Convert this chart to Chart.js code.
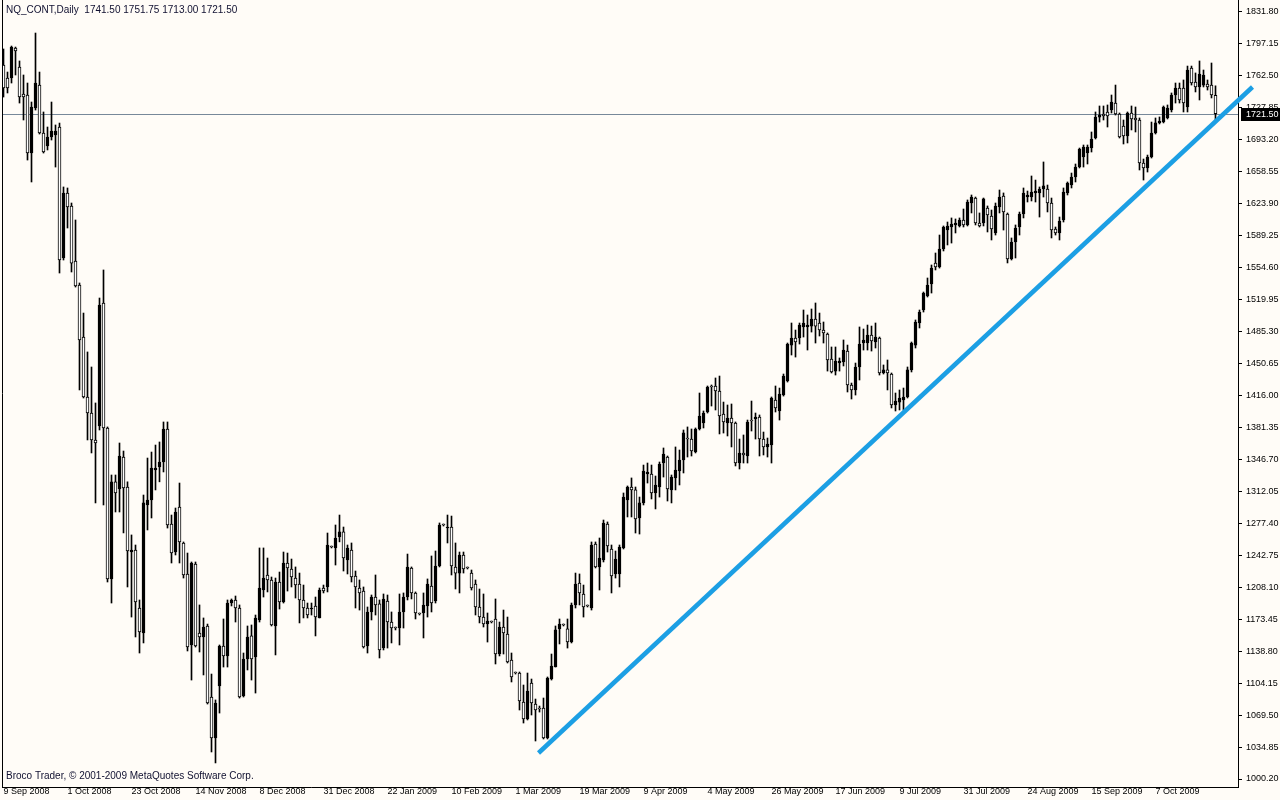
<!DOCTYPE html>
<html>
<head>
<meta charset="utf-8">
<title>NQ_CONT Daily</title>
<script src="https://cdn.jsdelivr.net/npm/chart.js@4.4.1/dist/chart.umd.min.js"></script>
<style>
  html, body { margin: 0; padding: 0; background: #fffcf7; }
  canvas { display: block; }
</style>
</head>
<body>
<canvas id="nqChart" width="1280" height="800"></canvas>
<script>
// NQ_CONT daily candles, 9 Sep 2008 .. late Oct 2009

const chartTitle = 'NQ_CONT,Daily  1741.50 1751.75 1713.00 1721.50';
const copyright = 'Broco Trader, \u00A9 2001-2009 MetaQuotes Software Corp.';

// one label every 16 bars
const dateTicks = ['9 Sep 2008', '1 Oct 2008', '23 Oct 2008', '14 Nov 2008', '8 Dec 2008',
  '31 Dec 2008', '22 Jan 2009', '10 Feb 2009', '1 Mar 2009', '19 Mar 2009', '9 Apr 2009',
  '4 May 2009', '26 May 2009', '17 Jun 2009', '9 Jul 2009', '31 Jul 2009', '24 Aug 2009',
  '15 Sep 2009', '7 Oct 2009'];
const barsPerLabel = 16;

const priceTicks = [1000.20, 1034.85, 1069.50, 1104.15, 1138.80, 1173.45, 1208.10, 1242.75,
  1277.40, 1312.05, 1346.70, 1381.35, 1416.00, 1450.65, 1485.30, 1519.95, 1554.60, 1589.25,
  1623.90, 1658.55, 1693.20, 1727.85, 1762.50, 1797.15, 1831.80];

const bidPrice = 1721.50;

const opens = [
  1774.3,1760.2,1760.2,1792.8,1772.2,1742.9,1741.8,1678.9,1727.7,1752.6,
  1700.6,1686.5,1696.3,1698.4,1707.1,1565.1,1635.5,1621.5,1561.8,1535.8,
  1479.4,1414.4,1397.0,1367.8,1382.9,1516.3,1380.8,1217.1,1322.4,1314.6,
  1349.3,1316.8,1246.3,1248.5,1185.6,1158.5,1297.3,1302.7,1335.2,1338.5,
  1343.9,1379.7,1276.7,1246.3,1295.1,1256.1,1222.5,1145.5,1233.3,1158.5,
  1154.2,1166.1,1089.1,1044.7,1101.0,1144.4,1133.6,1191.0,1194.3,1185.6,
  1090.2,1130.3,1155.3,1132.5,1172.6,1205.1,1221.4,1216.0,1166.1,1213.8,
  1192.1,1234.4,1227.9,1218.1,1211.6,1194.3,1185.6,1184.5,1187.8,1174.8,
  1207.3,1208.4,1251.7,1250.7,1262.6,1268.1,1237.6,1248.5,1220.3,1207.3,
  1204.0,1144.4,1181.3,1197.5,1190.0,1142.2,1193.2,1170.4,1163.9,1163.9,
  1181.3,1197.5,1229.0,1201.9,1179.1,1180.2,1187.8,1209.5,1193.2,1231.1,
  1275.6,1272.3,1273.4,1230.1,1223.5,1243.1,1229.0,1223.5,1211.6,1186.7,
  1175.8,1168.3,1170.4,1173.7,1135.7,1165.0,1157.4,1129.2,1115.1,1115.1,
  1083.7,1065.3,1104.3,1081.5,1076.1,1077.2,1044.7,1108.6,1121.6,1162.9,
  1167.2,1162.9,1148.7,1188.9,1212.7,1200.8,1187.8,1185.6,1255.0,1230.1,
  1237.6,1276.7,1249.6,1222.5,1222.5,1250.7,1302.7,1316.8,1313.6,1283.2,
  1299.5,1330.9,1330.9,1310.3,1316.8,1342.8,1349.3,1313.6,1326.6,1334.1,
  1346.1,1368.8,1368.8,1354.7,1379.7,1386.2,1398.1,1425.2,1426.3,1420.9,
  1395.9,1386.2,1391.6,1386.2,1342.8,1353.7,1350.4,1388.4,1390.5,1392.7,
  1368.8,1360.2,1362.3,1411.1,1399.2,1416.5,1431.7,1470.7,1478.3,1478.3,
  1490.3,1490.3,1491.3,1498.9,1494.6,1487.0,1482.7,1455.6,1442.5,1451.2,
  1452.3,1464.2,1427.4,1422.0,1446.9,1472.9,1472.9,1481.6,1474.0,1478.3,
  1440.4,1443.7,1439.3,1405.7,1408.9,1411.1,1414.4,1443.7,1470.7,1494.6,
  1508.7,1523.9,1536.9,1559.7,1555.3,1574.8,1595.4,1598.7,1600.9,1599.8,
  1606.3,1600.9,1624.7,1630.1,1603.0,1603.0,1619.3,1610.6,1592.2,1620.4,
  1632.3,1612.8,1564.0,1582.4,1598.7,1612.8,1631.2,1631.2,1635.6,1635.6,
  1639.9,1639.9,1624.7,1596.5,1592.2,1606.3,1635.6,1644.2,1652.9,1663.7,
  1674.6,1678.9,1684.3,1695.2,1717.9,1721.2,1723.4,1725.5,1733.1,1721.2,
  1708.2,1697.4,1722.3,1716.9,1714.7,1668.1,1662.7,1674.6,1700.6,1711.5,
  1712.5,1716.9,1725.5,1741.8,1749.4,1749.4,1728.8,1771.1,1755.9,1750.5,
  1752.6,1753.7,1752.6,1741.5
];
const highs = [
  1791.7,1766.7,1794.9,1793.8,1778.7,1763.5,1754.8,1734.2,1809.0,1766.7,
  1723.4,1707.1,1734.2,1709.3,1711.4,1642.1,1641.0,1624.7,1606.3,1538.0,
  1505.4,1463.2,1446.9,1407.9,1521.7,1552.1,1381.9,1329.8,1329.8,1364.5,
  1355.8,1322.4,1264.8,1253.9,1194.3,1308.1,1348.2,1354.7,1362.3,1365.6,
  1387.3,1387.3,1286.4,1294.0,1321.1,1257.2,1245.2,1235.5,1235.5,1188.9,
  1174.8,1168.2,1114.0,1085.9,1145.5,1173.7,1194.3,1195.4,1198.6,1188.9,
  1136.8,1166.1,1167.2,1178.0,1250.7,1250.7,1239.8,1219.2,1218.1,1224.6,
  1246.3,1245.2,1238.7,1230.1,1223.5,1210.5,1191.0,1191.0,1197.5,1207.3,
  1210.5,1266.9,1252.8,1275.6,1286.4,1273.4,1253.9,1256.1,1225.7,1216.0,
  1208.4,1186.7,1199.7,1221.4,1194.3,1200.8,1199.7,1181.3,1165.0,1200.8,
  1201.9,1244.1,1230.1,1203.0,1180.2,1201.9,1217.1,1242.0,1247.4,1277.8,
  1276.7,1286.4,1285.3,1256.1,1246.3,1246.3,1230.1,1226.8,1216.0,1206.2,
  1200.8,1180.2,1171.5,1195.4,1170.4,1183.4,1175.8,1136.8,1116.2,1116.2,
  1102.1,1115.1,1108.6,1086.9,1079.3,1088.0,1110.8,1135.7,1166.1,1173.7,
  1168.3,1173.7,1191.0,1223.5,1222.5,1210.5,1188.9,1257.2,1257.2,1261.5,
  1281.0,1278.9,1253.9,1247.4,1253.9,1310.3,1317.9,1326.6,1316.8,1305.9,
  1340.6,1342.8,1340.6,1328.7,1343.9,1359.1,1350.4,1329.8,1360.2,1356.9,
  1378.6,1381.9,1379.7,1380.8,1418.7,1399.2,1426.3,1427.4,1435.0,1437.1,
  1408.9,1405.7,1406.8,1387.3,1368.8,1373.2,1389.4,1410.0,1397.0,1394.9,
  1376.4,1369.9,1414.4,1426.3,1424.1,1439.3,1472.9,1494.6,1487.0,1494.6,
  1508.7,1503.3,1509.8,1516.3,1505.4,1495.7,1483.8,1468.6,1468.6,1456.7,
  1476.2,1470.7,1429.5,1451.2,1490.3,1488.1,1492.4,1491.3,1494.6,1479.4,
  1449.1,1454.5,1440.4,1418.7,1422.0,1424.1,1446.9,1474.0,1497.9,1508.7,
  1528.2,1543.4,1557.5,1570.5,1590.0,1599.8,1604.1,1608.5,1607.4,1608.5,
  1618.2,1628.0,1633.4,1631.2,1613.9,1630.1,1621.5,1617.1,1624.7,1638.8,
  1635.6,1613.9,1586.8,1600.9,1614.9,1641.0,1637.7,1654.0,1649.6,1642.1,
  1669.2,1644.2,1630.1,1598.7,1609.5,1641.0,1647.5,1657.2,1667.0,1684.3,
  1687.6,1687.6,1701.7,1723.4,1729.9,1729.9,1731.0,1741.8,1752.6,1722.3,
  1714.7,1723.4,1729.9,1728.8,1716.9,1672.4,1676.7,1712.5,1716.9,1718.0,
  1729.9,1731.0,1744.0,1754.8,1754.8,1758.1,1773.2,1773.2,1765.7,1778.7,
  1768.9,1758.1,1776.5,1751.75
];
const lows = [
  1739.6,1744.0,1754.8,1763.5,1733.1,1714.7,1671.3,1647.5,1725.5,1699.5,
  1678.9,1682.2,1693.0,1663.7,1548.8,1562.9,1597.6,1549.9,1533.6,1422.0,
  1413.3,1367.8,1353.7,1299.5,1378.6,1297.3,1213.8,1191.0,1289.7,1289.7,
  1267.0,1208.4,1175.8,1154.2,1136.8,1147.7,1270.2,1283.2,1313.6,1322.4,
  1333.1,1272.3,1234.4,1243.1,1234.4,1218.1,1139.0,1107.5,1143.3,1137.9,
  1113.0,1081.5,1029.5,1017.6,1071.7,1121.6,1121.6,1187.8,1170.4,1088.0,
  1089.1,1118.4,1107.5,1093.4,1170.4,1197.5,1203.0,1166.1,1134.7,1184.5,
  1191.0,1204.0,1208.4,1196.4,1169.4,1174.8,1174.8,1178.0,1155.3,1174.8,
  1201.9,1203.0,1250.7,1232.2,1257.3,1225.7,1222.5,1213.8,1185.6,1183.4,
  1142.2,1136.8,1172.6,1178.0,1131.4,1140.1,1142.2,1147.7,1161.8,1145.5,
  1163.9,1194.3,1195.4,1173.7,1178.0,1153.1,1175.8,1181.3,1191.0,1230.1,
  1274.5,1256.1,1221.4,1206.2,1201.9,1223.5,1227.9,1205.1,1178.0,1169.4,
  1165.0,1148.7,1169.4,1124.9,1133.6,1135.7,1126.0,1105.4,1114.0,1075.0,
  1060.9,1064.2,1069.6,1041.4,1072.8,1043.6,1043.6,1107.5,1121.6,1146.6,
  1166.1,1142.2,1147.7,1185.6,1188.9,1175.8,1186.7,1183.4,1229.0,1205.1,
  1235.5,1246.3,1201.9,1218.1,1208.4,1249.6,1284.3,1284.3,1266.9,1265.8,
  1297.3,1321.1,1303.8,1293.0,1305.9,1327.6,1301.6,1299.5,1313.6,1319.0,
  1332.0,1349.3,1350.4,1353.7,1378.6,1380.8,1397.0,1404.6,1400.3,1374.3,
  1375.3,1372.1,1360.2,1339.6,1336.3,1342.8,1342.8,1377.5,1368.8,1350.4,
  1351.5,1349.3,1342.8,1398.1,1389.4,1415.4,1430.6,1459.9,1457.7,1471.8,
  1479.4,1465.3,1484.8,1472.9,1480.5,1472.9,1442.5,1440.4,1438.2,1442.5,
  1448.0,1419.8,1412.2,1416.5,1432.8,1465.3,1465.3,1464.2,1467.5,1438.2,
  1439.3,1422.0,1402.5,1399.2,1400.3,1400.3,1413.3,1441.5,1467.5,1489.2,
  1506.5,1522.8,1527.1,1552.1,1554.2,1572.7,1579.2,1581.3,1592.2,1598.7,
  1598.7,1599.8,1613.9,1600.9,1598.7,1599.8,1593.3,1584.6,1590.0,1613.9,
  1595.4,1559.7,1562.9,1565.1,1590.0,1608.5,1625.8,1626.9,1625.8,1609.5,
  1631.2,1615.0,1586.8,1590.0,1584.6,1604.1,1633.4,1641.0,1647.5,1662.7,
  1663.7,1667.0,1680.0,1694.1,1712.5,1714.7,1707.1,1722.3,1720.1,1695.2,
  1688.7,1689.8,1703.9,1701.7,1660.5,1649.6,1658.3,1673.5,1699.5,1710.4,
  1711.5,1715.8,1723.4,1733.1,1733.1,1723.4,1723.4,1752.6,1745.1,1736.4,
  1750.5,1747.2,1738.6,1713.0
];
const closes = [
  1749.4,1749.4,1793.8,1789.5,1739.6,1739.6,1678.9,1728.8,1754.8,1700.6,
  1680.0,1696.3,1702.8,1702.8,1562.9,1635.5,1620.4,1559.6,1534.7,1476.2,
  1414.4,1397.0,1367.8,1364.5,1514.1,1380.8,1217.1,1322.4,1310.3,1350.4,
  1315.7,1247.4,1248.5,1192.1,1159.6,1299.5,1302.7,1337.4,1337.4,1343.9,
  1379.7,1275.6,1245.2,1289.7,1257.2,1221.4,1143.3,1234.4,1144.4,1154.2,
  1165.0,1082.6,1044.7,1082.6,1144.4,1133.6,1191.0,1194.3,1185.6,1089.1,
  1130.3,1154.2,1130.3,1174.8,1207.3,1218.1,1216.0,1167.2,1213.8,1192.1,
  1234.4,1229.0,1219.2,1210.5,1194.3,1185.6,1178.0,1185.6,1175.8,1205.1,
  1204.0,1253.9,1251.7,1261.5,1268.1,1239.8,1250.7,1219.2,1208.4,1201.9,
  1143.3,1181.3,1197.5,1188.9,1140.1,1195.4,1170.4,1163.9,1163.9,1181.3,
  1197.5,1230.1,1201.9,1180.2,1179.1,1188.9,1211.6,1191.0,1231.1,1275.6,
  1275.6,1273.4,1231.1,1223.5,1243.1,1227.9,1229.0,1207.3,1186.7,1175.8,
  1168.3,1171.5,1170.4,1135.7,1165.0,1158.5,1127.1,1110.8,1115.1,1084.8,
  1065.3,1095.6,1082.6,1075.0,1076.1,1044.7,1109.7,1122.7,1161.8,1168.3,
  1167.2,1148.7,1188.9,1211.6,1201.9,1186.7,1187.8,1253.9,1230.1,1239.8,
  1277.8,1252.8,1220.3,1238.7,1251.7,1305.9,1316.8,1313.6,1282.1,1299.5,
  1334.1,1333.0,1310.3,1319.0,1341.7,1352.6,1314.6,1327.6,1335.2,1346.1,
  1375.4,1368.8,1355.8,1379.7,1393.8,1397.0,1425.2,1425.2,1420.9,1393.8,
  1387.3,1391.6,1386.2,1342.8,1353.7,1351.5,1387.3,1388.4,1392.7,1368.8,
  1360.2,1363.4,1413.3,1402.5,1417.6,1437.1,1471.8,1478.3,1474.0,1492.4,
  1494.6,1492.4,1498.9,1491.3,1487.0,1483.8,1454.5,1441.5,1453.4,1453.4,
  1465.3,1427.4,1422.0,1446.9,1471.8,1476.2,1481.6,1475.1,1479.4,1440.4,
  1443.7,1440.4,1405.7,1410.0,1413.3,1414.4,1443.7,1472.9,1495.7,1506.5,
  1527.1,1535.8,1554.2,1555.3,1574.8,1598.7,1599.8,1601.9,1603.0,1606.3,
  1600.9,1625.8,1631.2,1603.0,1599.8,1629.1,1611.7,1596.5,1621.5,1631.2,
  1615.0,1564.0,1582.4,1597.6,1612.8,1635.6,1633.4,1636.6,1637.7,1639.9,
  1643.2,1624.7,1595.4,1592.2,1605.2,1636.6,1646.4,1652.9,1663.7,1683.3,
  1685.4,1685.4,1694.1,1717.9,1720.1,1719.0,1719.0,1734.2,1721.2,1696.3,
  1697.4,1722.3,1715.8,1714.7,1668.1,1662.7,1674.6,1700.6,1711.5,1713.6,
  1728.8,1727.7,1741.8,1749.4,1736.4,1733.1,1768.9,1754.8,1750.5,1764.6,
  1763.5,1750.5,1741.8,1721.5
];

// hand-drawn trend line (bar index, price)
const trendX = [133.75, 312.25];
const trendY = [1028.4, 1750.5];

const BG = '#fffcf7';
Chart.defaults.font.family = '"Liberation Sans", Arial, sans-serif';
Chart.defaults.font.size = 9;
Chart.defaults.color = '#000';

const idx = opens.map((_, i) => i);
const wickData = idx.map(i => ({ x: i, y: [lows[i], highs[i]] }));
const bodyData = idx.map(i => ({ x: i, y: [Math.min(opens[i], closes[i]), Math.max(opens[i], closes[i])] }));
const bodyFill = idx.map(i => closes[i] > opens[i] ? '#000000' : '#ffffff');
const trendData = trendX.map((x, k) => ({ x: x, y: trendY[k] }));

// price pixel rows: 1831.80 at y=12, 1000.20 at y=779, plot 0..787
const pxPerPrice = (779 - 12) / (1831.80 - 1000.20);
const yMax = 1831.80 + 12 / pxPerPrice;
const yMin = 1000.20 - 8 / pxPerPrice;

const mtPlugin = {
  id: 'mtFrame',
  beforeDraw(chart) {
    const c = chart.ctx;
    c.save();
    c.fillStyle = BG;
    c.fillRect(0, 0, chart.width, chart.height);
    c.restore();
  },
  beforeDatasetsDraw(chart) {
    const { ctx, chartArea: a, scales: { y } } = chart;
    const py = Math.round(y.getPixelForValue(bidPrice)) + 0.5;
    ctx.save();
    ctx.strokeStyle = '#778899';
    ctx.lineWidth = 1;
    ctx.beginPath();
    ctx.moveTo(a.left, py);
    ctx.lineTo(a.right, py);
    ctx.stroke();
    ctx.restore();
  },
  afterDraw(chart) {
    const { ctx, chartArea: a, scales: { y } } = chart;
    ctx.save();
    ctx.strokeStyle = '#000';
    ctx.lineWidth = 1;
    ctx.beginPath();
    ctx.moveTo(a.left + 0.5, 0);
    ctx.lineTo(a.left + 0.5, a.bottom);
    ctx.stroke();

    ctx.fillStyle = '#101030';
    ctx.font = '10px "Liberation Sans", Arial, sans-serif';
    ctx.textBaseline = 'alphabetic';
    ctx.textAlign = 'left';
    ctx.fillText(chartTitle, 6, 13);
    ctx.fillText(copyright, 6, 779);

    // current price tag on the price scale
    const py = Math.round(y.getPixelForValue(bidPrice));
    ctx.fillStyle = '#000';
    ctx.fillRect(a.right + 3, py - 6, 40, 13);
    ctx.fillStyle = '#fff';
    ctx.font = '9px "Liberation Sans", Arial, sans-serif';
    ctx.textBaseline = 'middle';
    ctx.fillText(bidPrice.toFixed(2), a.right + 8, py + 0.5);
    ctx.restore();
  }
};

new Chart(document.getElementById('nqChart'), {
  type: 'bar',
  data: {
    datasets: [
      {
        type: 'line',
        data: trendData,
        borderColor: '#1c9fe4',
        borderWidth: 4.5,
        pointRadius: 0,
        clip: false,
        order: 0
      },
      {
        data: bodyData,
        backgroundColor: bodyFill,
        borderColor: '#000',
        borderWidth: 1,
        borderSkipped: false,
        barThickness: 3,
        minBarLength: 1,
        grouped: false,
        order: 1
      },
      {
        data: wickData,
        backgroundColor: '#000',
        borderWidth: 0,
        barThickness: 1,
        grouped: false,
        order: 2
      }
    ]
  },
  options: {
    responsive: false,
    devicePixelRatio: 1,
    animation: false,
    events: [],
    layout: { padding: { left: 2, top: 0, right: 0, bottom: 0 } },
    plugins: { legend: { display: false }, tooltip: { enabled: false } },
    scales: {
      x: {
        type: 'linear',
        position: 'bottom',
        min: -0.375,
        max: 308.625,
        offset: false,
        afterBuildTicks: s => { s.ticks = dateTicks.map((_, k) => ({ value: k * barsPerLabel })); },
        afterFit: s => { s.height = 13; s.paddingLeft = 0; s.paddingRight = 0; },
        grid: { drawOnChartArea: false, drawTicks: false, offset: false },
        border: { display: true, color: '#000' },
        ticks: {
          autoSkip: false,
          maxRotation: 0,
          align: 'start',
          padding: 0,
          font: { size: 9, lineHeight: 1 },
          callback: (v, i) => dateTicks[i]
        }
      },
      y: {
        type: 'linear',
        position: 'right',
        min: yMin,
        max: yMax,
        afterBuildTicks: s => { s.ticks = priceTicks.map(v => ({ value: v })); },
        afterFit: s => { s.width = 42; s.paddingTop = 0; s.paddingBottom = 0; },
        grid: { drawOnChartArea: false, tickLength: 4, color: '#000' },
        border: { display: true, color: '#000' },
        ticks: {
          padding: 4,
          font: { size: 9 },
          callback: v => v.toFixed(2)
        }
      }
    }
  },
  plugins: [mtPlugin]
});
</script>
</body>
</html>
